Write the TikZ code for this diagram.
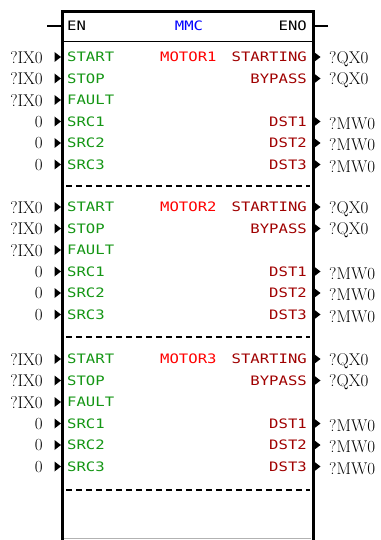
\documentclass[tikz,border=0pt]{standalone}
\usepackage{fontspec}
\newfontfamily\pix[FakeStretch=1.2]{DejaVu Sans Mono}
\definecolor{ingreen}{RGB}{20,150,20}
\definecolor{outred}{RGB}{160,0,0}
\definecolor{motred}{RGB}{255,0,0}
\definecolor{hblue}{RGB}{0,0,255}
\begin{document}
\begin{tikzpicture}[x=1pt,y=-1pt,
  pinlab/.style={font=\pix\fontsize{13}{13}\selectfont, inner sep=0pt},
  inlab/.style={pinlab, text=ingreen, anchor=west},
  outlab/.style={pinlab, text=outred, anchor=east},
  extlab/.style={font=\fontsize{17}{17}\selectfont, inner sep=0pt, text=black},
  tri/.style={fill=black},
  sep/.style={draw=black, line width=1.2pt, dash pattern=on 6pt off 4pt}]
\useasboundingbox (0,0) rectangle (380,540);
\fill[white] (0,0) rectangle (380,540);
% box
\coordinate (tl) at (62,12);
\coordinate (tr) at (313,12);
\coordinate (bl) at (62,540);
\coordinate (br) at (313,540);
\draw[line width=3pt] (bl) -- (tl) -- (tr) -- (br);
\draw[line width=1pt] (62,42) -- (313,42);
\draw[line width=1pt, black!30] (64,538.5) -- (311,538.5);
% header
\coordinate (enL) at (47,26);
\coordinate (enoR) at (328,26);
\draw[line width=1.5pt] (enL) -- (enL -| tl);
\draw[line width=1.5pt] (enoR) -- (enoR -| tr);
\node[pinlab, text=black, anchor=west] (en) at (67,26) {EN};
\node[pinlab, text=hblue] (mmc) at (189,26) {MMC};
\node[pinlab, text=black, anchor=east] (eno) at (307,26) {ENO};
% sections
\foreach \s/\d [count=\k] in {57/186, 207/337, 359/490} {
  \node[pinlab, text=motred, anchor=west] (mot\k) at (160,\s) {MOTOR\k};
  \foreach \lab/\val [count=\i from 0] in {START/?IX0, STOP/?IX0, FAULT/?IX0, SRC1/0, SRC2/0, SRC3/0} {
    \pgfmathsetmacro\yy{\s+21.5*\i}
    \node[inlab] (in\k\i) at (67,\yy) {\lab};
    \node[extlab, anchor=east] (x\k\i) at (43,\yy+0.5) {\val};
    \fill[tri] (54.5,\yy-5) -- (61,\yy) -- (54.5,\yy+5) -- cycle;
  }
  \foreach \lab/\val/\i in {STARTING/?QX0/0, BYPASS/?QX0/1, DST1/?MW0/3, DST2/?MW0/4, DST3/?MW0/5} {
    \pgfmathsetmacro\yy{\s+21.5*\i}
    \node[outlab] (out\k\i) at (307,\yy) {\lab};
    \node[extlab, anchor=west] (y\k\i) at (329,\yy+2) {\val};
    \fill[tri] (314,\yy-5) -- (320.5,\yy) -- (314,\yy+5) -- cycle;
  }
  \draw[sep] (66,\d) -- (310,\d);
}
\end{tikzpicture}
\end{document}
